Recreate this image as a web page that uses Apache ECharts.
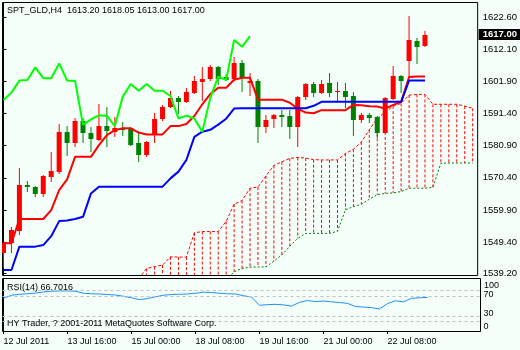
<!DOCTYPE html>
<html><head><meta charset="utf-8">
<script src="https://cdn.jsdelivr.net/npm/echarts@6/dist/echarts.min.js"></script>
<style>html,body{margin:0;padding:0;background:#F5FFFA;}#c{width:520px;height:350px;}</style>
</head><body><div id="c"></div>
<script>
// ---------- data ----------
const symbolName = 'SPT_GLD,H4';
const timeLabels = ['12 Jul 2011','13 Jul 16:00','15 Jul 00:00','18 Jul 08:00','19 Jul 16:00','21 Jul 00:00','22 Jul 08:00'];
const timeTickIdx = [0,8,16,24,32,40,48];
const priceTicks = [1539.20,1549.40,1559.90,1570.40,1580.90,1591.40,1601.90,1612.10,1622.60];
const rsiLabelVals = [0,30,70];
const rsiTopLabel = 100;
const rsiLevels = [80,70,30,20];

const open = [1546.0,1549.1,1553.2,1568.0,1567.3,1565.1,1570.7,1572.2,1585.3,1581.8,
1588.9,1584.9,1582.7,1587.2,1585.3,1586.6,1586.5,1581.6,1577.8,1584.3,
1589.4,1593.3,1596.3,1595.1,1598.1,1601.7,1602.4,1606.5,1603.3,1602.4,
1607.8,1601.2,1602.0,1587.0,1589.4,1590.7,1590.5,1587.0,1596.6,1600.9,
1598.1,1601.3,1598.3,1598.7,1597.0,1589.2,1590.8,1590.1,1585.1,1595.9,
1603.5,1608.5,1615.0,1613.20];
const high = [1549.4,1554.5,1573.7,1569.3,1567.6,1571.3,1578.8,1587.9,1587.2,1589.7,
1589.7,1587.0,1594.3,1593.3,1590.3,1588.6,1587.0,1584.9,1582.3,1591.4,
1594.1,1598.7,1597.0,1599.5,1603.5,1606.5,1607.1,1606.8,1604.0,1609.6,
1608.7,1604.4,1602.6,1590.8,1591.1,1592.4,1592.4,1597.0,1601.2,1601.6,
1602.2,1604.4,1601.6,1601.3,1598.4,1591.4,1591.6,1590.5,1596.8,1606.8,
1603.8,1623.0,1615.8,1618.05];
const low = [1541.0,1546.0,1551.8,1565.9,1564.2,1564.2,1569.1,1571.6,1577.5,1580.5,
1581.6,1578.9,1582.5,1580.3,1583.8,1584.0,1580.6,1575.6,1577.2,1581.8,
1589.0,1593.0,1591.1,1594.8,1597.8,1595.5,1602.0,1600.6,1601.8,1602.0,
1598.4,1597.0,1581.8,1585.1,1586.5,1586.8,1582.9,1580.5,1595.7,1596.8,
1597.8,1596.8,1595.1,1593.0,1584.0,1588.1,1588.1,1583.2,1584.9,1595.7,
1597.9,1603.1,1607.4,1613.00];
const close = [1549.1,1553.4,1568.0,1567.3,1565.1,1571.0,1572.6,1585.3,1581.8,1588.9,
1584.9,1582.9,1587.2,1585.7,1586.7,1585.9,1581.0,1577.8,1582.1,1589.5,
1593.3,1596.3,1595.1,1598.2,1601.9,1602.4,1606.5,1602.4,1602.2,1607.8,
1602.8,1601.9,1587.0,1589.2,1590.8,1590.3,1587.0,1596.6,1600.9,1598.1,
1600.9,1598.1,1598.5,1596.8,1589.2,1590.8,1589.7,1585.1,1596.3,1603.5,
1602.0,1615.2,1612.8,1617.00];

const tenkan = [1549.1,1549.1,1557.0,1557.0,1557.0,1557.0,1559.9,1566.4,1569.9,1577.2,
1577.2,1577.2,1581.0,1584.3,1585.9,1586.5,1586.5,1585.1,1584.5,1584.5,
1584.5,1587.2,1587.2,1587.9,1590.5,1594.3,1597.6,1599.7,1599.7,1602.3,
1602.9,1602.9,1595.8,1595.8,1595.8,1595.8,1594.8,1592.9,1591.6,1591.4,
1592.4,1592.4,1592.4,1592.4,1594.1,1594.0,1593.7,1593.6,1592.9,1594.1,
1595.1,1603.2,1603.3,1603.3];
const kijun = [1540.4,1540.4,1548.0,1548.0,1548.0,1548.5,1551.4,1556.3,1556.5,1557.0,
1557.7,1565.3,1567.5,1567.5,1567.5,1567.5,1567.5,1567.5,1567.5,1567.5,
1567.5,1570.2,1572.4,1576.2,1583.7,1585.4,1586.0,1587.7,1589.6,1592.9,
1593.0,1593.0,1593.0,1593.0,1593.0,1593.0,1593.0,1593.0,1593.0,1593.8,
1595.1,1595.1,1595.1,1595.1,1595.1,1595.1,1595.1,1595.1,1595.1,1595.1,
1595.1,1602.0,1602.0,1602.0];
const chikou = [1595.7,1598.1,1602.0,1602.2,1606.3,1602.8,1602.8,1607.6,1602.0,1601.9,
1587.6,1589.4,1590.7,1590.5,1587.2,1596.8,1600.9,1598.7,1600.9,1598.7,
1598.7,1597.0,1589.7,1590.6,1589.7,1585.4,1596.3,1603.3,1602.2,1615.2,
1613.0,1616.5];
const spanAStart = 17;
const spanA = [1537.5,1540.9,1541.5,1542.0,1544.7,1544.6,1544.6,1552.5,1552.9,1552.9,
1552.9,1556.2,1561.8,1563.0,1567.0,1567.4,1571.0,1574.4,1575.6,1576.7,
1577.0,1576.8,1576.3,1576.2,1576.2,1576.2,1578.3,1579.7,1582.0,1586.0,
1589.7,1591.8,1593.7,1594.6,1597.3,1597.5,1597.5,1594.3,1594.3,1594.3,
1594.3,1593.7,1593.0];
const spanBStart = 28;
const spanB = [1537.0,1539.8,1540.9,1541.3,1541.4,1541.4,1543.3,1545.3,1548.1,1550.7,
1552.3,1552.3,1552.3,1552.3,1553.0,1560.0,1561.0,1561.8,1563.4,1564.9,
1565.3,1565.5,1565.9,1567.0,1567.0,1567.0,1567.3,1575.1,1575.2,1575.2,
1575.2,1575.2];
const rsi = [65,71,73,74,75.5,77.5,79,79.5,79.6,79,
75,74,73.5,72.5,71.5,69,66,62.4,64.5,68,
71,72.5,73,73.5,75,77,76.5,75,74,73.5,
70,67.5,51,52.5,53,52,49.5,57,60.5,58.5,
59.5,58,56.5,55,48.5,47.5,46.5,44,54.5,60,
58,65,66,66.7016];

// ---------- layout constants ----------
const FONT = '"Liberation Sans", Arial, sans-serif';
const X_MIN = -0.125, X_MAX = 59.625;
const P_MIN = 1538.61, P_MAX = 1627.41;
const R_MIN = -0.8, R_MAX = 104.2;
const RSI_GRID = {left: 2.5, top: 278.5, width: 478, height: 53};
const BULL = '#FF0000', BEAR = '#008000';

const candleData = open.map((o, i) => [i, o, close[i], low[i], high[i]]);
const pts = (arr, start) => arr.map((v, k) => [start + k, v]);
const hatchData = spanA.map((a, k) => {
  const i = spanAStart + k;
  const bi = i - spanBStart;
  const b = (bi >= 0 && bi < spanB.length) ? spanB[bi] : null;
  return [i, a, b];
});
const last = open.length - 1;
// vertical position of the RSI "100" scale text inside the RSI pane
const y100 = RSI_GRID.top + (R_MAX - rsiTopLabel) / (R_MAX - R_MIN) * RSI_GRID.height;

const chart = echarts.init(document.getElementById('c'), null, {renderer: 'canvas'});
chart.setOption({
  backgroundColor: '#F5FFFA',
  animation: false,
  textStyle: {fontFamily: FONT},
  grid: [
    {left: 2.5, top: 2.5, width: 478, height: 273, show: true, borderColor: '#000', borderWidth: 1, backgroundColor: 'transparent'},
    Object.assign({show: true, borderColor: '#000', borderWidth: 1, backgroundColor: 'transparent'}, RSI_GRID)
  ],
  xAxis: [
    {type: 'value', gridIndex: 0, min: X_MIN, max: X_MAX, show: false, splitLine: {show: false}},
    {type: 'value', gridIndex: 1, min: X_MIN, max: X_MAX,
      axisLine: {show: false}, splitLine: {show: false},
      axisTick: {show: true, customValues: timeTickIdx, length: 3, lineStyle: {color: '#000'}},
      axisLabel: {show: true, customValues: timeTickIdx, align: 'left', margin: 5.5, fontSize: 9, color: '#000', fontFamily: FONT,
        hideOverlap: false,
        formatter: v => timeLabels[timeTickIdx.indexOf(Math.round(v))] || ''}}
  ],
  yAxis: [
    {type: 'value', gridIndex: 0, position: 'right', min: P_MIN, max: P_MAX, scale: true,
      splitLine: {show: false},
      axisLine: {show: true, lineStyle: {color: '#000'}},
      axisTick: {show: true, customValues: priceTicks, length: 3, lineStyle: {color: '#000'}},
      axisLabel: {show: true, customValues: priceTicks, margin: 5, fontSize: 9.5, color: '#000', fontFamily: FONT,
        hideOverlap: false,
        formatter: v => Number(v).toFixed(2)}},
    {type: 'value', gridIndex: 1, position: 'right', min: R_MIN, max: R_MAX,
      splitLine: {show: false},
      axisLine: {show: true, lineStyle: {color: '#000'}},
      axisTick: {show: false},
      axisLabel: {show: true, customValues: rsiLabelVals, margin: 3, fontSize: 9, color: '#000', fontFamily: FONT,
        hideOverlap: false,
        formatter: v => '{r' + Math.round(v) + '|' + Math.round(v) + '}',
        rich: {
          r70: {fontSize: 9, color: '#000', fontFamily: FONT, padding: [0, 0, 3, 0]},
          r30: {fontSize: 9, color: '#000', fontFamily: FONT, padding: [0, 0, 4, 0]},
          r0: {fontSize: 9, color: '#000', fontFamily: FONT, padding: [0, 0, 10, 0]}
        }}}
  ],
  graphic: [
    {type: 'text', x: 7, y: 10.5, z: 100, style: {text: symbolName + '  ' + [open[last], high[last], low[last], close[last]].map(v => v.toFixed(2)).join(' '), fontSize: 9, fontFamily: FONT, fill: '#000', verticalAlign: 'middle'}},
    {type: 'text', x: 7, y: 287.5, z: 100, style: {text: 'RSI(14) ' + rsi[last].toFixed(4), fontSize: 9, fontFamily: FONT, fill: '#000', verticalAlign: 'middle'}},
    {type: 'text', x: 7, y: 323.5, z: 100, style: {text: 'HY Trader, ? 2001-2011 MetaQuotes Software Corp.', fontSize: 9, fontFamily: FONT, fill: '#000', verticalAlign: 'middle'}},
    {type: 'text', x: RSI_GRID.left + RSI_GRID.width + 3.5, y: y100 + 0.5, z: 100, style: {text: String(rsiTopLabel), fontSize: 9, fontFamily: FONT, fill: '#000', verticalAlign: 'top'}}
  ],
  series: [
    {type: 'custom', name: 'cloud', xAxisIndex: 0, yAxisIndex: 0, clip: true, z: 1, silent: true,
      data: hatchData,
      renderItem: function (params, api) {
        const i = api.value(0), a = api.value(1);
        let b = api.value(2);
        if (b === null || b === undefined || isNaN(b)) b = P_MIN;
        if (a <= P_MIN) return null;
        const pa = api.coord([i, a]), pb = api.coord([i, Math.max(b, P_MIN)]);
        return {type: 'line', shape: {x1: pa[0], y1: pa[1], x2: pb[0], y2: pb[1]},
          style: {stroke: '#FF0000', lineWidth: 1, lineDash: [3, 2]}};
      }},
    {type: 'line', name: 'Senkou A', xAxisIndex: 0, yAxisIndex: 0, z: 2, data: pts(spanA, spanAStart), symbol: 'none',
      lineStyle: {color: '#FF0000', width: 1, type: [3, 2]}},
    {type: 'line', name: 'Senkou B', xAxisIndex: 0, yAxisIndex: 0, z: 2, data: pts(spanB, spanBStart), symbol: 'none',
      lineStyle: {color: '#008000', width: 1, type: [2, 2]}},
    {type: 'custom', name: 'candles', xAxisIndex: 0, yAxisIndex: 0, clip: true, z: 3,
      data: candleData,
      renderItem: function (params, api) {
        const i = api.value(0), o = api.value(1), c = api.value(2), l = api.value(3), h = api.value(4);
        const pO = api.coord([i, o]), pC = api.coord([i, c]), pL = api.coord([i, l]), pH = api.coord([i, h]);
        const x = pO[0];
        const col = c >= o ? BULL : BEAR;
        const top = Math.round(Math.min(pO[1], pC[1]));
        const bot = Math.round(Math.max(pO[1], pC[1]));
        return {type: 'group', children: [
          {type: 'line', shape: {x1: x, y1: Math.round(pH[1]), x2: x, y2: Math.round(pL[1])}, style: {stroke: col, lineWidth: 1}},
          {type: 'rect', shape: {x: x - 2.5, y: top, width: 5, height: Math.max(bot - top, 1)}, style: {fill: col}}
        ]};
      }},
    {type: 'line', name: 'Tenkan', xAxisIndex: 0, yAxisIndex: 0, z: 4, data: pts(tenkan, 0), symbol: 'none',
      lineStyle: {color: '#FF0000', width: 2},
      markLine: {silent: true, symbol: ['none', 'none'], animation: false,
        lineStyle: {color: 'rgba(0,0,0,0)', width: 0},
        data: [{yAxis: close[last]}],
        label: {show: true, position: 'end', distance: 1, formatter: close[last].toFixed(2),
          backgroundColor: '#000', color: '#fff', fontSize: 9.5, fontWeight: 'bold', fontFamily: FONT, padding: [1, 3, 0, 4]}}},
    {type: 'line', name: 'Kijun', xAxisIndex: 0, yAxisIndex: 0, z: 4, data: pts(kijun, 0), symbol: 'none',
      lineStyle: {color: '#0000FF', width: 2}},
    {type: 'line', name: 'Chikou', xAxisIndex: 0, yAxisIndex: 0, z: 4, data: pts(chikou, 0), symbol: 'none',
      lineStyle: {color: '#00FF00', width: 2}},
    {type: 'line', name: 'RSI', xAxisIndex: 1, yAxisIndex: 1, z: 4, data: pts(rsi, 0), symbol: 'none',
      lineStyle: {color: '#1E90FF', width: 1},
      markLine: {silent: true, symbol: ['none', 'none'], animation: false,
        lineStyle: {color: '#C0C0C0', width: 1, type: [3, 3]},
        label: {show: false},
        data: rsiLevels.map(v => ({yAxis: v}))}}
  ]
});
</script></body></html>
